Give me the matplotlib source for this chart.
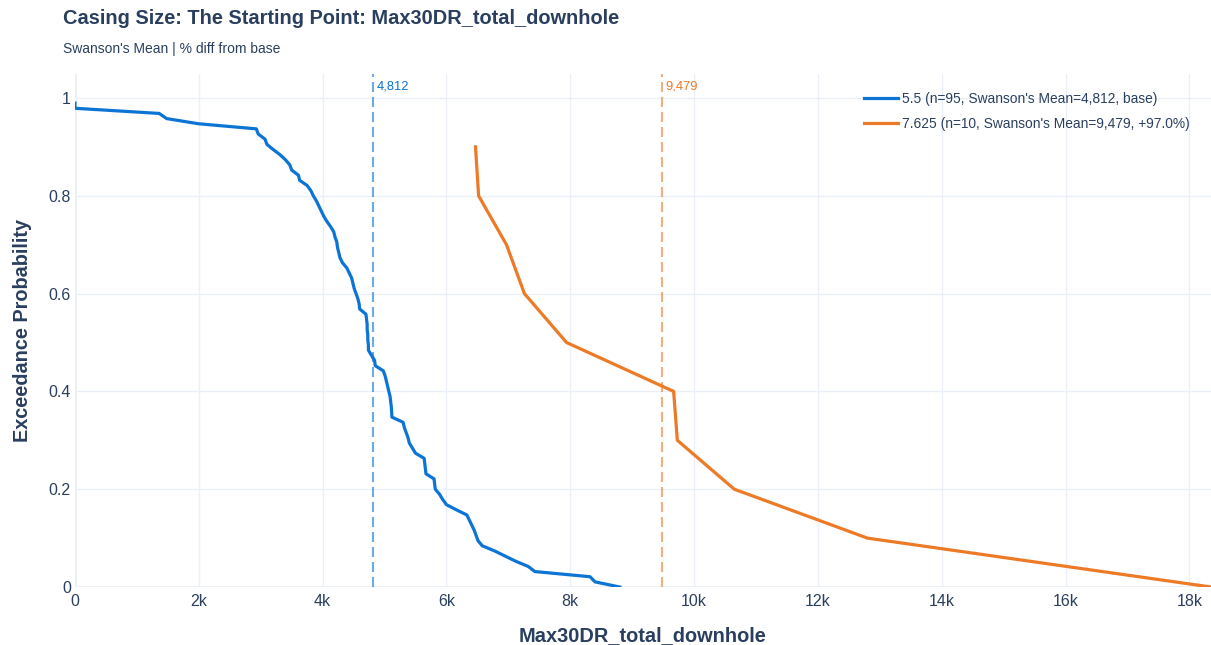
import numpy as np
import matplotlib
matplotlib.use('Agg')
import matplotlib.pyplot as plt

plt.rcParams['font.family'] = ['Liberation Sans', 'DejaVu Sans']

# sorted sample values (x)
blue_values = [0, 0, 1360, 1480, 1990, 2930, 2960, 3070, 3100, 3200,
               3310, 3400, 3470, 3500, 3610, 3630, 3750, 3810, 3850, 3900,
               3940, 3980, 4020, 4070, 4130, 4180, 4200, 4230, 4240, 4260,
               4280, 4320, 4390, 4430, 4470, 4490, 4510, 4540, 4570, 4590,
               4600, 4700, 4710, 4720, 4720, 4730, 4730, 4740, 4740, 4790,
               4840, 4850, 4980, 5010, 5030, 5050, 5070, 5090, 5100, 5110,
               5115, 5120, 5300, 5320, 5350, 5380, 5400, 5450, 5500, 5640,
               5650, 5660, 5670, 5800, 5810, 5820, 5890, 5940, 6000, 6160,
               6330, 6370, 6410, 6450, 6480, 6510, 6580, 6780, 6950, 7120,
               7320, 7430, 8320, 8400, 8800]
orange_values = [6470, 6520, 6970, 7260, 7940, 9670, 9730, 10650, 12800, 18350]

labels = ["5.5 (n=95, Swanson's Mean=4,812, base)",
          "7.625 (n=10, Swanson's Mean=9,479, +97.0%)"]
means = [4812, 9479]
mean_text = ['4,812', '9,479']
colors = ['#0b74d5', '#ec7a26']

x_ticks = [0, 2000, 4000, 6000, 8000, 10000, 12000, 14000, 16000, 18000]
x_ticklabels = ['0', '2k', '4k', '6k', '8k', '10k', '12k', '14k', '16k', '18k']
y_ticks = [0, 0.2, 0.4, 0.6, 0.8, 1.0]
y_ticklabels = ['0', '0.2', '0.4', '0.6', '0.8', '1']

text_col = '#2a3f5f'
grid_col = '#ebf0f8'

fig = plt.figure(figsize=(12.11, 6.45), dpi=100)
ax = fig.add_axes([0.0619, 0.0899, 0.9381, 0.7961])

for vals, lab, col in zip([blue_values, orange_values], labels, colors):
    n = len(vals)
    exceed = 1 - np.arange(1, n + 1) / n
    ax.plot(vals, exceed, color=col, lw=2.3, label=lab, zorder=3,
            solid_joinstyle='round')

for m, t, col in zip(means, mean_text, colors):
    ax.axvline(m, color=col, alpha=0.6, lw=1.5, dashes=(4.8, 2.4), zorder=2)
    ax.text(m + 60, 1.035, t, color=col, fontsize=9.3, ha='left', va='top')

ax.set_xlim(0, 18350)
ax.set_ylim(0, 1.05)
ax.set_xticks(x_ticks)
ax.set_xticklabels(x_ticklabels)
ax.set_yticks(y_ticks)
ax.set_yticklabels(y_ticklabels)
ax.tick_params(length=0, labelsize=11.5, labelcolor=text_col)
ax.tick_params(axis='x', pad=5)
ax.tick_params(axis='y', pad=3)
ax.grid(True, color=grid_col, lw=1)
ax.set_axisbelow(True)
for s in ax.spines.values():
    s.set_visible(False)
ax.axhline(0, color=grid_col, lw=2, zorder=1)
ax.axvline(0, color=grid_col, lw=2, zorder=1)

ax.set_xlabel('Max30DR_total_downhole', fontsize=14.4, fontweight='bold',
              color=text_col, labelpad=12)
ax.set_ylabel('Exceedance Probability', fontsize=14.3, fontweight='bold',
              color=text_col, labelpad=12)

fig.text(0.052, 0.972, 'Casing Size: The Starting Point: Max30DR_total_downhole',
         fontsize=14.4, fontweight='bold', color=text_col, va='center')
fig.text(0.052, 0.924, "Swanson's Mean | % diff from base", fontsize=10,
         color=text_col, va='center')

leg = ax.legend(loc='upper left', bbox_to_anchor=(0.69, 0.975), frameon=False,
                fontsize=9.95, handlelength=2.4, labelspacing=0.8,
                handletextpad=0.35, borderaxespad=0)
for t in leg.get_texts():
    t.set_color(text_col)

fig.savefig('out.png', dpi=100)
